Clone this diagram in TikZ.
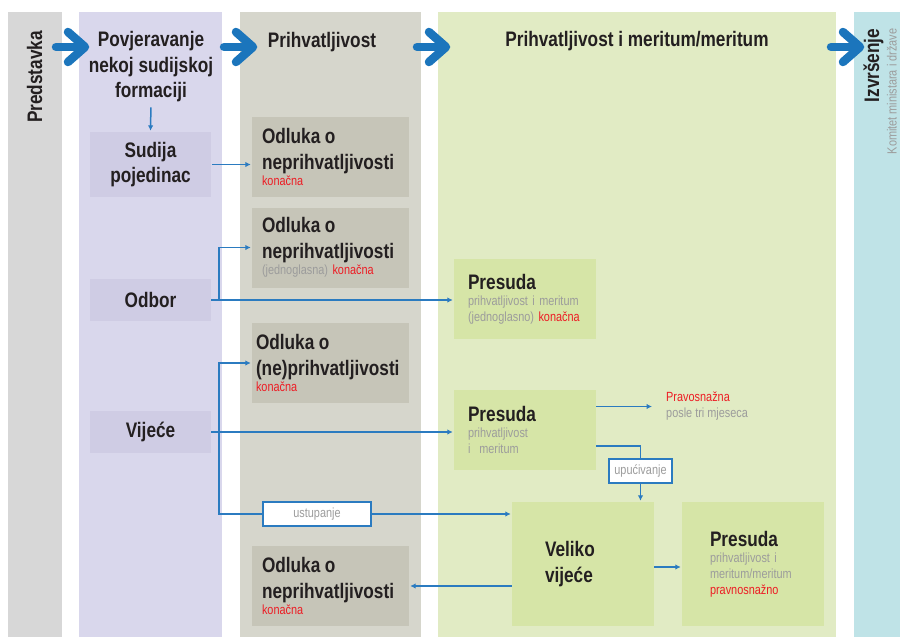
\documentclass[tikz,border=0pt]{standalone}
\usepackage{fontspec}
\setmainfont{Liberation Sans}[FakeStretch=0.82]
\usetikzlibrary{arrows.meta}

\definecolor{predgray}{HTML}{D7D7D7}
\definecolor{povjcol}{HTML}{D9D7EC}
\definecolor{povjbox}{HTML}{CFCCE4}
\definecolor{prihcol}{HTML}{D6D6CC}
\definecolor{prihbox}{HTML}{C6C5B8}
\definecolor{meritcol}{HTML}{E1EBC4}
\definecolor{meritbox}{HTML}{D6E5A7}
\definecolor{izvrcol}{HTML}{BFE3E7}
\definecolor{echrblue}{HTML}{1B75BC}
\definecolor{linkblue}{HTML}{2B7BC0}
\definecolor{konred}{HTML}{ED1C24}
\definecolor{notegray}{HTML}{9C9C9C}
\definecolor{headtxt}{HTML}{231F20}

\newcommand{\bigtxt}{\fontsize{21}{25.5}\selectfont\bfseries}
\newcommand{\smalltxt}{\fontsize{13.3}{16}\selectfont}
\newcommand{\kon}[1]{{\color{konred}#1}}
\newcommand{\sivo}[1]{{\color{notegray}#1}}

\begin{document}
\begin{tikzpicture}[x=1pt,y=-1pt,
  bigarrow/.style={echrblue,line width=8.5pt,line cap=round,line join=round},
  conn/.style={linkblue,line width=1.5pt,-{Latex[length=5.5pt,width=5.5pt]},shorten >=1pt},
  connline/.style={linkblue,line width=1.5pt},
  headtext/.style={font=\bigtxt,text=headtxt,inner sep=0pt},
  formbox/.style={fill=povjbox,minimum width=121pt,inner sep=0pt,align=center,font=\bigtxt,text=headtxt},
  odlbox/.style={fill=prihbox,minimum height=80pt,inner xsep=10pt,inner ysep=0pt,text width=137pt,align=left,font=\smalltxt,text=headtxt},
  presbox/.style={fill=meritbox,minimum height=80pt,inner xsep=14pt,inner ysep=0pt,text width=114pt,align=left,font=\smalltxt,text=headtxt},
  notebox/.style={draw=linkblue,fill=white,line width=1.5pt,minimum height=24pt,inner xsep=0pt,font=\smalltxt,text=notegray}]
\useasboundingbox (0,0) rectangle (900,637);

% columns
\fill[predgray] (8,12) rectangle (62,637);
\fill[povjcol] (79,12) rectangle (222,637);
\fill[prihcol] (240,12) rectangle (421,637);
\fill[meritcol] (438,12) rectangle (836,637);
\fill[izvrcol] (854,12) rectangle (900,637);

% big arrows
\foreach \ax in {56,224,417,831} {
  \draw[bigarrow] (\ax,47) -- (\ax+28,47);
  \draw[bigarrow] (\ax+12,32) -- (\ax+29,47) -- (\ax+12,62);
}

% headers
\node[headtext,rotate=90,anchor=base] (predst) at (42,77) {Predstavka};
\node[headtext,align=center] (povj) at (151,67) {Povjeravanje\\nekoj sudijskoj\\formaciji};
\node[headtext,anchor=base] (prih) at (322,47) {Prihvatljivost};
\node[headtext,anchor=base] (merit) at (637,46) {Prihvatljivost i meritum/meritum};
\node[headtext,rotate=90,anchor=base] (izvr) at (879,65.5) {Izvršenje};
\node[font=\smalltxt,text=notegray,inner sep=0pt,rotate=90,anchor=base] (komitet) at (896.5,91.5) {Komitet ministara i države};

% formacije
\node[formbox,minimum height=65pt] (sudija) at (150.5,164.5) {Sudija\\pojedinac};
\node[formbox,minimum height=42pt] (odbor) at (150.5,300) {Odbor};
\node[formbox,minimum height=42pt] (vijece) at (150.5,432) {Vijeće};

% odluke
\node[odlbox] (odl1) at (330.5,157) {{\bigtxt Odluka o}\\[9.5pt]{\bigtxt neprihvatljivosti}\\\kon{konačna}};
\node[odlbox] (odl2) at (330.5,247.5) {{\bigtxt Odluka o}\\[9.5pt]{\bigtxt neprihvatljivosti}\\\sivo{(jednoglasna)} \kon{konačna}};
\node[odlbox,inner xsep=4pt,text width=149pt] (odl3) at (330.5,363) {{\bigtxt Odluka o}\\[9.5pt]{\bigtxt (ne)prihvatljivosti}\\\kon{konačna}};
\node[odlbox] (odl4) at (330.5,586) {{\bigtxt Odluka o}\\[9.5pt]{\bigtxt neprihvatljivosti}\\\kon{konačna}};

% presude
\node[presbox] (pres1) at (525,299) {{\bigtxt Presuda}\\\sivo{prihvatljivost i meritum}\\\sivo{(jednoglasno)} \kon{konačna}};
\node[presbox] (pres2) at (525,430) {{\bigtxt Presuda}\\\sivo{prihvatljivost}\\\sivo{i\ \ meritum}};
\node[presbox,minimum height=124pt,inner xsep=33pt,text width=76pt,font=\bigtxt] (veliko) at (583,564) {Veliko\\vijeće};
\node[presbox,minimum height=124pt,inner xsep=28pt,text width=86pt] (pres3) at (753,564) {{\bigtxt Presuda}\\\sivo{prihvatljivost i}\\\sivo{meritum/meritum}\\\kon{pravnosnažno}};
\node[font=\smalltxt,align=left,inner sep=0pt,anchor=west] (pravo) at (666,406.5) {\kon{Pravosnažna}\\\sivo{posle tri mjeseca}};

% notes on connectors
\node[notebox,minimum width=108pt] (ustup) at (317,514) {ustupanje};
\node[notebox,minimum width=63pt] (upuc) at (640.5,471) {upućivanje};

% connectors
\draw[conn,shorten <=5pt] (povj.south) -- (sudija.north);
\draw[conn,shorten <=1pt] (sudija.east) -- (sudija.east -| odl1.west);
\coordinate (obr) at ([xshift=8pt]odbor.east);
\draw[conn] (odbor.east) -- (odbor.east -| pres1.west);
\draw[conn] (obr) |- (odl2.west);
\coordinate (vbr) at ([xshift=8pt]vijece.east);
\draw[conn] (vijece.east) -- (vijece.east -| pres2.west);
\draw[conn] (vbr) |- (odl3.west);
\draw[connline] (vbr) |- (ustup.west);
\draw[conn] (ustup.east) -- (ustup.east -| veliko.west);
\draw[conn,shorten >=14pt] (pres2.east |- pravo.west) -- (pravo.west);
\draw[connline] ([yshift=-16pt]pres2.east) -| (upuc.north);
\draw[conn] (upuc.south) -- (upuc.south |- veliko.north);
\draw[conn] (veliko.west |- odl4.east) -- (odl4.east);
\draw[conn] ([yshift=-3pt]veliko.east) -- ([yshift=-3pt]pres3.west);
\end{tikzpicture}
\end{document}
